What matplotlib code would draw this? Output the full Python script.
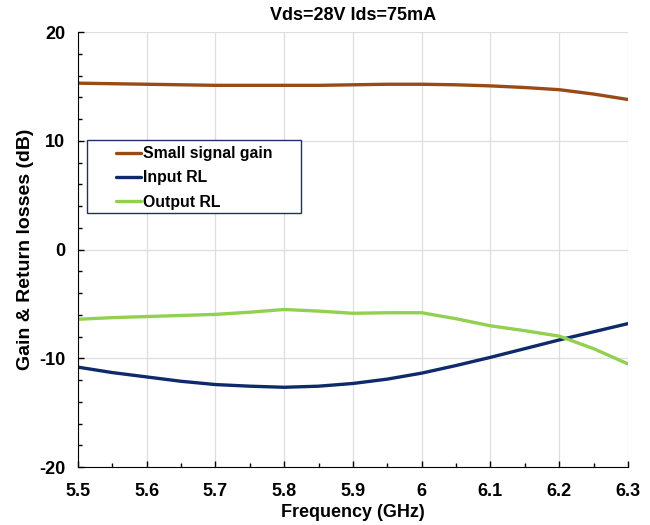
import matplotlib
matplotlib.use("Agg")
import matplotlib.pyplot as plt
from matplotlib.ticker import MultipleLocator
from matplotlib.patches import Rectangle

plt.rcParams['font.family'] = ['Liberation Sans', 'DejaVu Sans']
plt.rcParams['axes.unicode_minus'] = False

# Frequency (GHz)
freq = [5.5, 5.55, 5.6, 5.65, 5.7, 5.75, 5.8, 5.85, 5.9, 5.95, 6.0,
        6.05, 6.1, 6.15, 6.2, 6.25, 6.3]
# Small signal gain (dB)
gain = [15.3, 15.25, 15.2, 15.15, 15.1, 15.1, 15.1, 15.1, 15.15, 15.2, 15.2,
        15.15, 15.05, 14.9, 14.7, 14.3, 13.8]
# Input return loss (dB)
input_rl = [-10.8, -11.3, -11.7, -12.1, -12.4, -12.55, -12.65, -12.55, -12.3,
            -11.9, -11.35, -10.65, -9.9, -9.1, -8.3, -7.55, -6.8]
# Output return loss (dB)
output_rl = [-6.4, -6.25, -6.15, -6.05, -5.95, -5.75, -5.5, -5.65, -5.85,
             -5.8, -5.8, -6.35, -7.0, -7.45, -7.95, -9.1, -10.5]

xticks = [5.5, 5.6, 5.7, 5.8, 5.9, 6.0, 6.1, 6.2, 6.3]
xtick_labels = ['5.5', '5.6', '5.7', '5.8', '5.9', '6', '6.1', '6.2', '6.3']

fig = plt.figure(figsize=(6.5, 5.25), dpi=100)
ax = fig.add_axes([0.12, 0.110, 0.846, 0.829])

ax.plot(freq, gain, color='#9A4A16', lw=2.4, label='Small signal gain', solid_capstyle='round')
ax.plot(freq, input_rl, color='#0E2A6A', lw=2.4, label='Input RL', solid_capstyle='round')
ax.plot(freq, output_rl, color='#92D050', lw=2.4, label='Output RL', solid_capstyle='round')

ax.set_xlim(5.5, 6.3)
ax.set_ylim(-20, 20)
ax.set_xticks(xticks)
ax.set_xticklabels(xtick_labels)
ax.set_yticks([-20, -10, 0, 10, 20])
ax.xaxis.set_minor_locator(MultipleLocator(0.05))
ax.yaxis.set_minor_locator(MultipleLocator(2))

ax.grid(True, which='major', color='#DEDEDE', lw=0.9)
ax.set_axisbelow(True)
ax.spines['top'].set_visible(False)
ax.spines['right'].set_visible(False)
ax.spines['left'].set_color('black')
ax.spines['bottom'].set_color('black')

ax.tick_params(which='both', direction='in', colors='black')
ax.tick_params(which='major', length=4, width=1, labelsize=13)
ax.tick_params(axis='x', which='major', pad=11)
ax.tick_params(axis='y', which='major', pad=9)
ax.tick_params(which='minor', length=3, width=1)
for lab in ax.get_xticklabels() + ax.get_yticklabels():
    lab.set_fontweight('bold')

ax.set_xlabel('Frequency (GHz)', fontsize=13, fontweight='bold', labelpad=3)
ax.set_ylabel('Gain & Return losses (dB)', fontsize=14, fontweight='bold', labelpad=4)
ax.set_title('Vds=28V Ids=75mA', fontsize=13, fontweight='bold', pad=9)

# legend box
ax.add_patch(Rectangle((0.0164, 0.584), 0.389, 0.168, transform=ax.transAxes,
                       facecolor='white', edgecolor='#1F2F6B', lw=1.0, zorder=4))
leg = ax.legend(loc='upper left', bbox_to_anchor=(0.054, 0.756), frameon=False,
                borderpad=0, handlelength=1.6, handletextpad=0.1,
                labelspacing=0.58, prop={'weight': 'bold', 'size': 11.4})
leg.set_zorder(5)

fig.savefig('out.png', dpi=100)
